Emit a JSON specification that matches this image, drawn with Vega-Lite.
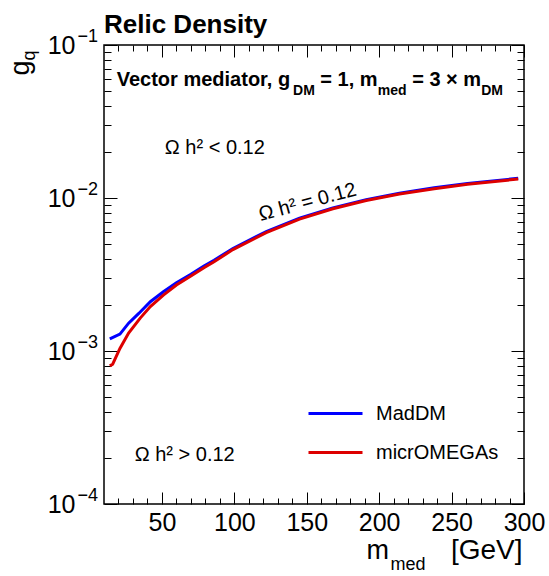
{
  "$schema": "https://vega.github.io/schema/vega-lite/v6.json",
  "width": 420,
  "height": 459,
  "autosize": "none",
  "padding": {"left": 104, "top": 45, "right": 25, "bottom": 72},
  "background": "white",
  "config": {
    "view": {"stroke": "black", "strokeWidth": 1.5},
    "font": "Liberation Sans",
    "axis": {
      "grid": false, "domain": false, "tickColor": "black", "tickWidth": 1,
      "labelColor": "black", "titleColor": "black",
      "labelFont": "Liberation Sans", "titleFont": "Liberation Sans",
      "titleFontWeight": "normal", "labelFlush": false, "labelOverlap": false, "labelBound": false
    }
  },
  "title": {"text": "Relic Density", "anchor": "start", "frame": "group", "fontSize": 26, "fontWeight": "bold", "font": "Liberation Sans", "color": "black", "baseline": "alphabetic", "offset": -32},
  "data": {"values": [
    {"series": "MadDM", "mass": 14, "gq": 0.00120},
    {"series": "MadDM", "mass": 21, "gq": 0.00129},
    {"series": "MadDM", "mass": 27, "gq": 0.00152},
    {"series": "MadDM", "mass": 34, "gq": 0.00176},
    {"series": "MadDM", "mass": 42, "gq": 0.00210},
    {"series": "MadDM", "mass": 51, "gq": 0.00244},
    {"series": "MadDM", "mass": 60, "gq": 0.00279},
    {"series": "MadDM", "mass": 70, "gq": 0.00317},
    {"series": "MadDM", "mass": 79, "gq": 0.00359},
    {"series": "MadDM", "mass": 86, "gq": 0.00392},
    {"series": "MadDM", "mass": 99, "gq": 0.00468},
    {"series": "MadDM", "mass": 122, "gq": 0.00603},
    {"series": "MadDM", "mass": 145, "gq": 0.00738},
    {"series": "MadDM", "mass": 168, "gq": 0.00862},
    {"series": "MadDM", "mass": 191, "gq": 0.00975},
    {"series": "MadDM", "mass": 214, "gq": 0.01075},
    {"series": "MadDM", "mass": 238, "gq": 0.01165},
    {"series": "MadDM", "mass": 261, "gq": 0.01245},
    {"series": "MadDM", "mass": 296, "gq": 0.01345},
    {"series": "micrOMEGAs", "mass": 14, "gq": 0.00080},
    {"series": "micrOMEGAs", "mass": 16, "gq": 0.00082},
    {"series": "micrOMEGAs", "mass": 21, "gq": 0.00104},
    {"series": "micrOMEGAs", "mass": 27, "gq": 0.00131},
    {"series": "micrOMEGAs", "mass": 35, "gq": 0.00164},
    {"series": "micrOMEGAs", "mass": 42, "gq": 0.00195},
    {"series": "micrOMEGAs", "mass": 51, "gq": 0.00232},
    {"series": "micrOMEGAs", "mass": 60, "gq": 0.00270},
    {"series": "micrOMEGAs", "mass": 70, "gq": 0.00309},
    {"series": "micrOMEGAs", "mass": 79, "gq": 0.00350},
    {"series": "micrOMEGAs", "mass": 86, "gq": 0.00383},
    {"series": "micrOMEGAs", "mass": 99, "gq": 0.00460},
    {"series": "micrOMEGAs", "mass": 122, "gq": 0.00594},
    {"series": "micrOMEGAs", "mass": 145, "gq": 0.00728},
    {"series": "micrOMEGAs", "mass": 168, "gq": 0.00851},
    {"series": "micrOMEGAs", "mass": 191, "gq": 0.00963},
    {"series": "micrOMEGAs", "mass": 214, "gq": 0.01062},
    {"series": "micrOMEGAs", "mass": 238, "gq": 0.01151},
    {"series": "micrOMEGAs", "mass": 261, "gq": 0.01231},
    {"series": "micrOMEGAs", "mass": 296, "gq": 0.01330}
  ]},
  "layer": [
    {
      "mark": {"type": "line", "strokeWidth": 3},
      "encoding": {
        "x": {"field": "mass", "type": "quantitative", "scale": {"domain": [10, 300], "nice": false, "zero": false},
          "axis": {"orient": "bottom", "values": [50, 100, 150, 200, 250, 300], "ticks": false, "labelFontSize": 25, "labelPadding": 6, "labelBaseline": "top",
            "title": "m", "titleFontSize": 27, "titleX": 262, "titleY": 54, "titleAlign": "left", "titleBaseline": "alphabetic"}},
        "y": {"field": "gq", "type": "quantitative", "scale": {"type": "log", "domain": [0.0001, 0.1], "nice": false},
          "axis": {"orient": "left", "values": [0.0001, 0.001, 0.01, 0.1], "ticks": false, "labelExpr": "'10'", "labelFontSize": 25, "labelPadding": 29, "labelAlign": "right", "labelBaseline": "middle",
            "title": "g", "titleFontSize": 27, "titleAngle": -90, "titleX": -76, "titleY": 30, "titleAlign": "left", "titleBaseline": "alphabetic"}},
        "color": {"field": "series", "type": "nominal", "sort": ["MadDM", "micrOMEGAs"],
          "scale": {"domain": ["MadDM", "micrOMEGAs"], "range": ["#0000ff", "#dd0000"]},
          "legend": {"orient": "none", "legendX": 203, "legendY": 340, "title": null, "symbolType": "stroke", "symbolSize": 2916, "symbolStrokeWidth": 3, "labelFontSize": 20, "labelFont": "Liberation Sans", "labelColor": "black", "labelOffset": 12, "rowPadding": -4, "padding": 0}}
      }
    },
    {
      "mark": {"type": "point", "opacity": 0},
      "encoding": {
        "x": {"field": "mass", "type": "quantitative", "axis": {"orient": "bottom", "values": [50, 100, 150, 200, 250, 300], "tickSize": -12, "labels": false,
          "title": "med", "titleFontSize": 18, "titleX": 286, "titleY": 65, "titleAlign": "left", "titleBaseline": "alphabetic"}},
        "y": {"field": "gq", "type": "quantitative", "axis": {"orient": "left", "values": [0.0001, 0.001, 0.01, 0.1], "tickSize": -13, "labels": false,
          "title": "q", "titleFontSize": 18, "titleAngle": -90, "titleX": -70, "titleY": 15, "titleAlign": "left", "titleBaseline": "alphabetic"}}
      }
    },
    {
      "mark": {"type": "point", "opacity": 0},
      "encoding": {
        "x": {"field": "mass", "type": "quantitative", "axis": {"orient": "bottom", "values": [20, 30, 40, 60, 70, 80, 90, 110, 120, 130, 140, 160, 170, 180, 190, 210, 220, 230, 240, 260, 270, 280, 290], "tickSize": -6, "labels": false, "title": null}},
        "y": {"field": "gq", "type": "quantitative", "axis": {"orient": "left", "values": [0.0002, 0.0003, 0.0004, 0.0005, 0.0006, 0.0007, 0.0008, 0.0009, 0.002, 0.003, 0.004, 0.005, 0.006, 0.007, 0.008, 0.009, 0.02, 0.03, 0.04, 0.05, 0.06, 0.07, 0.08, 0.09], "tickSize": -7, "labels": false, "title": null}}
      }
    },
    {
      "mark": {"type": "point", "opacity": 0},
      "encoding": {
        "x": {"field": "mass", "type": "quantitative", "axis": {"orient": "top", "values": [50, 100, 150, 200, 250, 300], "tickSize": -12, "labels": false, "title": null}},
        "y": {"field": "gq", "type": "quantitative", "axis": {"orient": "right", "values": [0.0001, 0.001, 0.01, 0.1], "tickSize": -13, "labels": false, "title": null}}
      }
    },
    {
      "mark": {"type": "point", "opacity": 0},
      "encoding": {
        "x": {"field": "mass", "type": "quantitative", "axis": {"orient": "top", "values": [20, 30, 40, 60, 70, 80, 90, 110, 120, 130, 140, 160, 170, 180, 190, 210, 220, 230, 240, 260, 270, 280, 290], "tickSize": -6, "labels": false, "title": null}},
        "y": {"field": "gq", "type": "quantitative", "axis": {"orient": "right", "values": [0.0002, 0.0003, 0.0004, 0.0005, 0.0006, 0.0007, 0.0008, 0.0009, 0.002, 0.003, 0.004, 0.005, 0.006, 0.007, 0.008, 0.009, 0.02, 0.03, 0.04, 0.05, 0.06, 0.07, 0.08, 0.09], "tickSize": -7, "labels": false, "title": null}}
      }
    },
    {
      "mark": {"type": "point", "opacity": 0},
      "encoding": {
        "x": {"field": "mass", "type": "quantitative", "axis": {"orient": "bottom", "ticks": false, "labels": false,
          "title": "[GeV]", "titleFontSize": 28, "titleX": 418, "titleY": 54, "titleAlign": "right", "titleBaseline": "alphabetic"}},
        "y": {"field": "gq", "type": "quantitative", "axis": {"orient": "left", "values": [0.0001, 0.001, 0.01, 0.1], "ticks": false,
          "labelExpr": "datum.value > 0.05 ? '−1' : datum.value > 0.005 ? '−2' : datum.value > 0.0005 ? '−3' : '−4'",
          "labelFontSize": 18, "labelAlign": "left", "labelBaseline": "middle", "labelPadding": 27, "labelOffset": -9, "title": null}}
      }
    },
    {
      "data": {"values": [
        {"mass": 52, "gq": 0.0212, "label": "Ω h² < 0.12"},
        {"mass": 31.2, "gq": 0.000209, "label": "Ω h² > 0.12"}
      ]},
      "mark": {"type": "text", "align": "left", "baseline": "middle", "fontSize": 20, "font": "Liberation Sans", "color": "black"},
      "encoding": {
        "x": {"field": "mass", "type": "quantitative", "axis": null},
        "y": {"field": "gq", "type": "quantitative", "axis": null},
        "text": {"field": "label"}
      }
    },
    {
      "data": {"values": [
        {"mass": 151.6, "gq": 0.0086, "label": "Ω h² = 0.12"}
      ]},
      "mark": {"type": "text", "align": "center", "baseline": "alphabetic", "fontSize": 20, "angle": 345, "font": "Liberation Sans", "color": "black"},
      "encoding": {
        "x": {"field": "mass", "type": "quantitative", "axis": null},
        "y": {"field": "gq", "type": "quantitative", "axis": null},
        "text": {"field": "label"}
      }
    },
    {
      "data": {"values": [
        {"mass": 18.79, "gq": 0.05395, "label": "Vector mediator, g"},
        {"mass": 159.35, "gq": 0.05395, "label": "= 1, m"},
        {"mass": 222.78, "gq": 0.05395, "label": "= 3 × m"}
      ]},
      "mark": {"type": "text", "align": "left", "baseline": "alphabetic", "fontSize": 20, "fontWeight": "bold", "font": "Liberation Sans", "color": "black"},
      "encoding": {
        "x": {"field": "mass", "type": "quantitative", "axis": null},
        "y": {"field": "gq", "type": "quantitative", "axis": null},
        "text": {"field": "label"}
      }
    },
    {
      "data": {"values": [
        {"mass": 140.53, "gq": 0.0471, "label": "DM"},
        {"mass": 198.99, "gq": 0.0471, "label": "med"},
        {"mass": 270.44, "gq": 0.0471, "label": "DM"}
      ]},
      "mark": {"type": "text", "align": "left", "baseline": "alphabetic", "fontSize": 14, "fontWeight": "bold", "font": "Liberation Sans", "color": "black"},
      "encoding": {
        "x": {"field": "mass", "type": "quantitative", "axis": null},
        "y": {"field": "gq", "type": "quantitative", "axis": null},
        "text": {"field": "label"}
      }
    }
  ],
  "resolve": {"axis": {"x": "independent", "y": "independent"}}
}
